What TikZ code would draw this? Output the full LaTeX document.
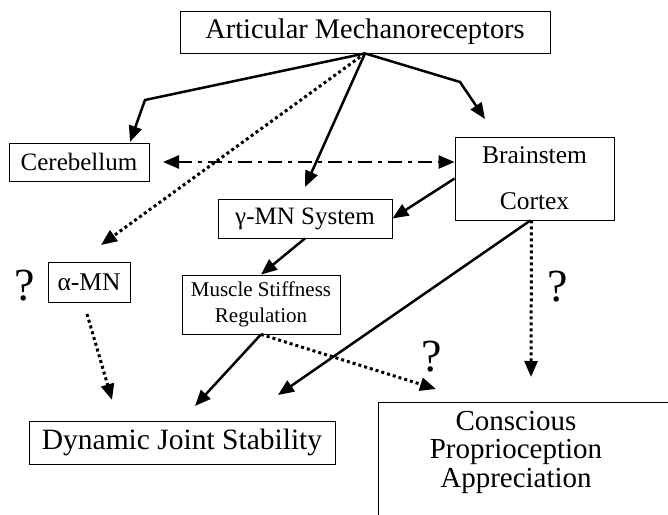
\documentclass[tikz,border=0pt]{standalone}
\usepackage{fontspec}
\setmainfont{Liberation Serif}
\usetikzlibrary{arrows.meta}
\begin{document}
\begin{tikzpicture}[x=1pt,y=-1pt,
  box/.style={draw,line width=0.8pt,inner sep=0pt,align=center},
  arr/.style={line width=2.5pt,-{Triangle[length=16pt,width=13pt]}},
  dotarr/.style={arr,line width=3pt,dash pattern=on 3pt off 3pt},
  dasharr/.style={line width=2.5pt,{Triangle[length=16pt,width=13pt]}-{Triangle[length=16pt,width=13pt]},dash pattern=on 14pt off 6pt on 4pt off 6pt},
  qm/.style={font=\fontsize{46}{46}\selectfont,inner sep=0pt}]
\useasboundingbox (0,0) rectangle (668,514);
\begin{scope}
\clip (0,0) rectangle (668,514);
% nodes
\node[box,minimum width=370pt,minimum height=42pt,font=\fontsize{28.4}{28}\selectfont] (art) at (365,32) {Articular Mechanoreceptors};
\node[box,minimum width=140pt,minimum height=38pt,font=\fontsize{25}{25}\selectfont] (cer) at (79,162) {Cerebellum};
\node[box,minimum width=159pt,minimum height=83pt,font=\fontsize{25.5}{46}\selectfont] (brc) at (534.5,178.5) {Brainstem\\Cortex};
\node[box,minimum width=174pt,minimum height=39pt,font=\fontsize{25}{25}\selectfont] (gmn) at (305,218.5) {γ-MN System};
\node[box,minimum width=82pt,minimum height=40pt,font=\fontsize{25.5}{25}\selectfont] (amn) at (89,282) {α-MN};
\node[box,minimum width=158pt,minimum height=59pt,font=\fontsize{21}{26}\selectfont] (msr) at (261,304.5) {Muscle Stiffness\\Regulation};
\node[box,minimum width=306pt,minimum height=43pt,font=\fontsize{29.5}{29}\selectfont] (djs) at (182,442.5) {Dynamic Joint Stability};
\node[inner sep=0pt,align=center,font=\fontsize{29}{28.5}\selectfont] (cpa) at (516,452) {Conscious\\Proprioception\\Appreciation};
\draw[line width=0.8pt] (378,540) |- (700,402);
% question marks
\node[qm] (q1) at (25,286) {?};
\node[qm] (q2) at (558,287) {?};
\node[qm] (q3) at (432,357) {?};
% free ends
\coordinate (b1) at (145,100);
\coordinate (t1) at (130,142);
\coordinate (b2) at (460,82);
\coordinate (t2) at (485,119);
\coordinate (t3) at (305,187);
\coordinate (t4) at (101,245);
\coordinate (s5) at (163,162);
\coordinate (s8) at (87,314);
\coordinate (t8) at (112,400);
\coordinate (t9) at (195,406);
\coordinate (t10) at (436,389);
\coordinate (t11) at (278,395);
\coordinate (t12) at (531,377);
% connectors
\draw[arr] (art.south) -- (b1) -- (t1);
\draw[arr] (art.south) -- (b2) -- (t2);
\draw[arr] (art.south) -- (t3);
\draw[dotarr] (art.south) -- (t4);
\draw[dasharr] (s5) -- (brc.west |- s5);
\draw[arr] (brc.west) -- (gmn.east);
\draw[arr] (gmn.south) -- (msr.north);
\draw[dotarr] (s8) -- (t8);
\draw[arr] (msr.south) -- (t9);
\draw[dotarr] (msr.south) -- (t10);
\draw[arr] ([xshift=-4pt]brc.south) -- (t11);
\draw[dotarr] ([xshift=-3pt]brc.south) -- (t12);
\end{scope}
\end{tikzpicture}
\end{document}
